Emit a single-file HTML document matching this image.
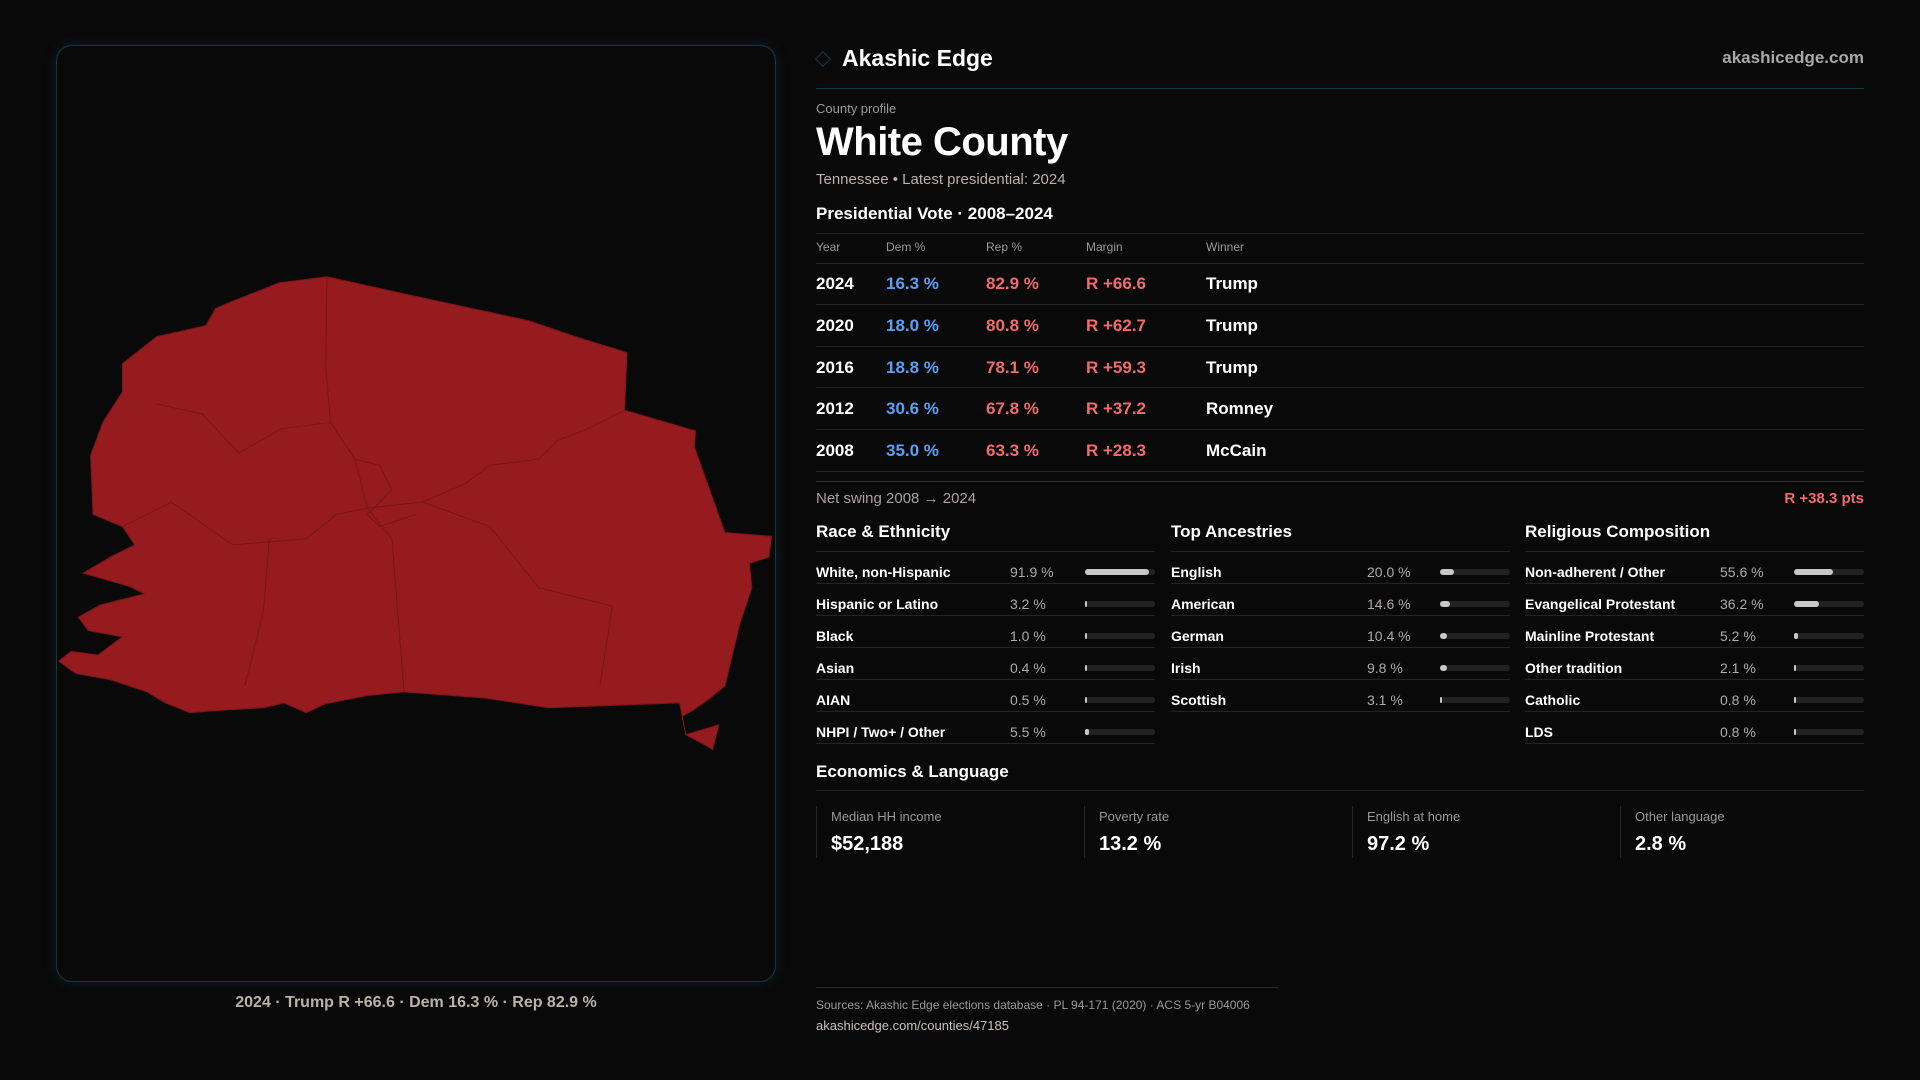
<!DOCTYPE html>
<html><head><meta charset="utf-8"><style>
*{margin:0;padding:0;box-sizing:border-box}
body{width:1920px;height:1080px;background:#0a090a;font-family:"Liberation Sans",sans-serif;color:#fff;position:relative;overflow:hidden}
.a{position:absolute;white-space:nowrap}
.panel{position:absolute;left:56px;top:45px;width:720px;height:937px;border:1px solid #0f3a44;border-radius:16px;background:#0a090a;box-shadow:0 0 12px rgba(20,90,110,0.25)}
.hl{position:absolute;height:1px;background:#242424}
.lbl{color:#9a9a9a}
.blue{color:#5aa0f5}.red{color:#f06b6b}
.bar{position:absolute;height:6px;border-radius:3px;background:#222}
.bar i{position:absolute;left:0;top:0;height:6px;border-radius:3px;background:#c8c8c8}
.vl{position:absolute;width:1px;background:#262626}
</style></head><body>
<div class="panel"></div>
<svg class="a" style="left:0;top:0" width="1920" height="1080" viewBox="0 0 1568 882">
<path fill="#961b1e" stroke="#7e1519" stroke-width="0.8" d="M100,297 L128,275 L150,270 L168,266 L176,252 L185,248 L195,244 L228,231 L267,226 L330,240 L432,262 L470,275 L512,288 L510,335 L568,352 L567,365 L592,435 L630,438 L628,455 L612,460 L614,480 L604,510 L592,560 L580,570 L566,580 L557,585 L560,600 L587,592 L582,612 L575,608 L560,600 L555,574 L448,578 L396,570 L330,565 L300,568 L265,575 L250,582 L232,574 L215,578 L180,580 L155,582 L135,574 L120,565 L90,555 L62,550 L48,540 L58,532 L80,535 L100,520 L72,515 L64,504 L82,494 L118,485 L106,479 L68,468 L90,455 L110,445 L100,430 L76,420 L74,372 L84,345 L100,320 Z"/>
<g fill="none" stroke="#7a1418" stroke-width="0.8">
<path d="M267,226 L266,300 L270,345 L290,375 L300,415 L320,440 L330,565"/>
<path d="M128,330 L165,338 L195,370 L230,350 L270,345"/>
<path d="M100,430 L140,410 L190,445 L250,440 L275,420 L300,415"/>
<path d="M300,415 L345,410 L400,430 L440,480 L500,495 L490,560"/>
<path d="M345,410 L380,395 L400,380 L440,375 L455,360 L480,350 L510,335"/>
<path d="M220,440 L215,500 L200,560"/>
<path d="M290,375 L310,380 L320,400 L300,420 L310,430 L340,420"/>
</g>
</svg>
<div class="a" style="left:0;width:832px;top:994px;text-align:center;font-size:16px;color:#b8b2a8;font-weight:bold">2024 · Trump R +66.6 · Dem 16.3 % · Rep 82.9 %</div>

<div class="a" style="left:816px;top:52px;width:14px;height:14px;border:1.5px solid #0f4a55;transform:rotate(45deg) scale(0.8)"></div>
<div class="a" style="left:842px;top:45px;font-size:23px;font-weight:bold">Akashic Edge</div>
<div class="a" style="right:56px;top:48px;font-size:17px;color:#a8a8a8;font-weight:bold">akashicedge.com</div>
<div class="hl" style="left:816px;width:1048px;top:88px;background:#123c46"></div>
<div class="a lbl" style="left:816px;top:101px;font-size:13px">County profile</div>
<div class="a" style="left:816px;top:120px;font-size:40px;font-weight:bold;letter-spacing:-0.5px">White County</div>
<div class="a" style="left:816px;top:171px;font-size:15px;color:#b8b2a8">Tennessee • Latest presidential: 2024</div>
<div class="a" style="left:816px;top:204px;font-size:17px;font-weight:bold">Presidential Vote · 2008–2024</div>
<div class="hl" style="left:816px;width:1048px;top:233px"></div>
<div class="a lbl" style="left:816px;top:240px;font-size:12px">Year</div>
<div class="a lbl" style="left:886px;top:240px;font-size:12px">Dem %</div>
<div class="a lbl" style="left:986px;top:240px;font-size:12px">Rep %</div>
<div class="a lbl" style="left:1086px;top:240px;font-size:12px">Margin</div>
<div class="a lbl" style="left:1206px;top:240px;font-size:12px">Winner</div>
<div class="hl" style="left:816px;width:1048px;top:263px"></div>

<div style="position:absolute;left:816px;top:263px;width:1048px;font-size:17px;font-weight:bold">
<div style="position:relative;height:42px;border-bottom:1px solid #242424"><span class="a" style="left:0;top:11px">2024</span><span class="a blue" style="left:70px;top:11px">16.3 %</span><span class="a red" style="left:170px;top:11px">82.9 %</span><span class="a red" style="left:270px;top:11px">R +66.6</span><span class="a" style="left:390px;top:11px">Trump</span></div>
<div style="position:relative;height:42px;border-bottom:1px solid #242424"><span class="a" style="left:0;top:11px">2020</span><span class="a blue" style="left:70px;top:11px">18.0 %</span><span class="a red" style="left:170px;top:11px">80.8 %</span><span class="a red" style="left:270px;top:11px">R +62.7</span><span class="a" style="left:390px;top:11px">Trump</span></div>
<div style="position:relative;height:41px;border-bottom:1px solid #242424"><span class="a" style="left:0;top:11px">2016</span><span class="a blue" style="left:70px;top:11px">18.8 %</span><span class="a red" style="left:170px;top:11px">78.1 %</span><span class="a red" style="left:270px;top:11px">R +59.3</span><span class="a" style="left:390px;top:11px">Trump</span></div>
<div style="position:relative;height:42px;border-bottom:1px solid #242424"><span class="a" style="left:0;top:11px">2012</span><span class="a blue" style="left:70px;top:11px">30.6 %</span><span class="a red" style="left:170px;top:11px">67.8 %</span><span class="a red" style="left:270px;top:11px">R +37.2</span><span class="a" style="left:390px;top:11px">Romney</span></div>
<div style="position:relative;height:42px;border-bottom:1px solid #242424"><span class="a" style="left:0;top:11px">2008</span><span class="a blue" style="left:70px;top:11px">35.0 %</span><span class="a red" style="left:170px;top:11px">63.3 %</span><span class="a red" style="left:270px;top:11px">R +28.3</span><span class="a" style="left:390px;top:11px">McCain</span></div>
</div>
<div class="hl" style="left:816px;width:1048px;top:481px;background:#333"></div>
<div class="a" style="left:816px;top:490px;font-size:15px;color:#a8a29a">Net swing 2008 → 2024</div>
<div class="a red" style="right:56px;top:490px;font-size:15px;font-weight:bold">R +38.3 pts</div>

<div class="a" style="left:816px;top:522px;font-size:17px;font-weight:bold">Race &amp; Ethnicity</div>
<div class="a" style="left:1171px;top:522px;font-size:17px;font-weight:bold">Top Ancestries</div>
<div class="a" style="left:1525px;top:522px;font-size:17px;font-weight:bold">Religious Composition</div>

<div id="c1" style="position:absolute;left:816px;top:551px;width:339px"></div>
<div id="c2" style="position:absolute;left:1171px;top:551px;width:339px"></div>
<div id="c3" style="position:absolute;left:1525px;top:551px;width:339px"></div>

<div class="a" style="left:816px;top:762px;font-size:17px;font-weight:bold">Economics &amp; Language</div>
<div class="hl" style="left:816px;width:1048px;top:790px"></div>
<div class="vl" style="left:816px;top:806px;height:52px"></div>
<div class="vl" style="left:1084px;top:806px;height:52px"></div>
<div class="vl" style="left:1352px;top:806px;height:52px"></div>
<div class="vl" style="left:1620px;top:806px;height:52px"></div>
<div class="a lbl" style="left:831px;top:809px;font-size:13px">Median HH income</div>
<div class="a" style="left:831px;top:833px;font-size:20px;font-weight:bold">$52,188</div>
<div class="a lbl" style="left:1099px;top:809px;font-size:13px">Poverty rate</div>
<div class="a" style="left:1099px;top:833px;font-size:20px;font-weight:bold">13.2 %</div>
<div class="a lbl" style="left:1367px;top:809px;font-size:13px">English at home</div>
<div class="a" style="left:1367px;top:833px;font-size:20px;font-weight:bold">97.2 %</div>
<div class="a lbl" style="left:1635px;top:809px;font-size:13px">Other language</div>
<div class="a" style="left:1635px;top:833px;font-size:20px;font-weight:bold">2.8 %</div>

<div class="hl" style="left:816px;width:462px;top:987px;background:#2a2a2a"></div>
<div class="a lbl" style="left:816px;top:998px;font-size:12px">Sources: Akashic Edge elections database · PL 94-171 (2020) · ACS 5-yr B04006</div>
<div class="a" style="left:816px;top:1018px;font-size:13px;color:#c8c2b8">akashicedge.com/counties/47185</div>

<script>
function fill(id,rows,vx){var h='<div style="height:1px;background:#242424"></div>';
rows.forEach(function(r){var w=Math.max(2,Math.round(r[1]/100*70));
h+='<div style="position:relative;height:32px;border-bottom:1px solid #242424;font-size:14px"><span class="a" style="left:0;top:12px;font-weight:bold">'+r[0]+'</span><span class="a" style="left:'+vx+'px;top:12px;color:#b0aaa2">'+r[1].toFixed(1)+' %</span><div class="bar" style="left:269px;top:17px;width:70px"><i style="width:'+w+'px"></i></div></div>';});
document.getElementById(id).innerHTML=h;}
fill('c1',[['White, non-Hispanic',91.9],['Hispanic or Latino',3.2],['Black',1.0],['Asian',0.4],['AIAN',0.5],['NHPI / Two+ / Other',5.5]],194);
fill('c2',[['English',20.0],['American',14.6],['German',10.4],['Irish',9.8],['Scottish',3.1]],196);
fill('c3',[['Non-adherent / Other',55.6],['Evangelical Protestant',36.2],['Mainline Protestant',5.2],['Other tradition',2.1],['Catholic',0.8],['LDS',0.8]],195);
</script>
</body></html>
